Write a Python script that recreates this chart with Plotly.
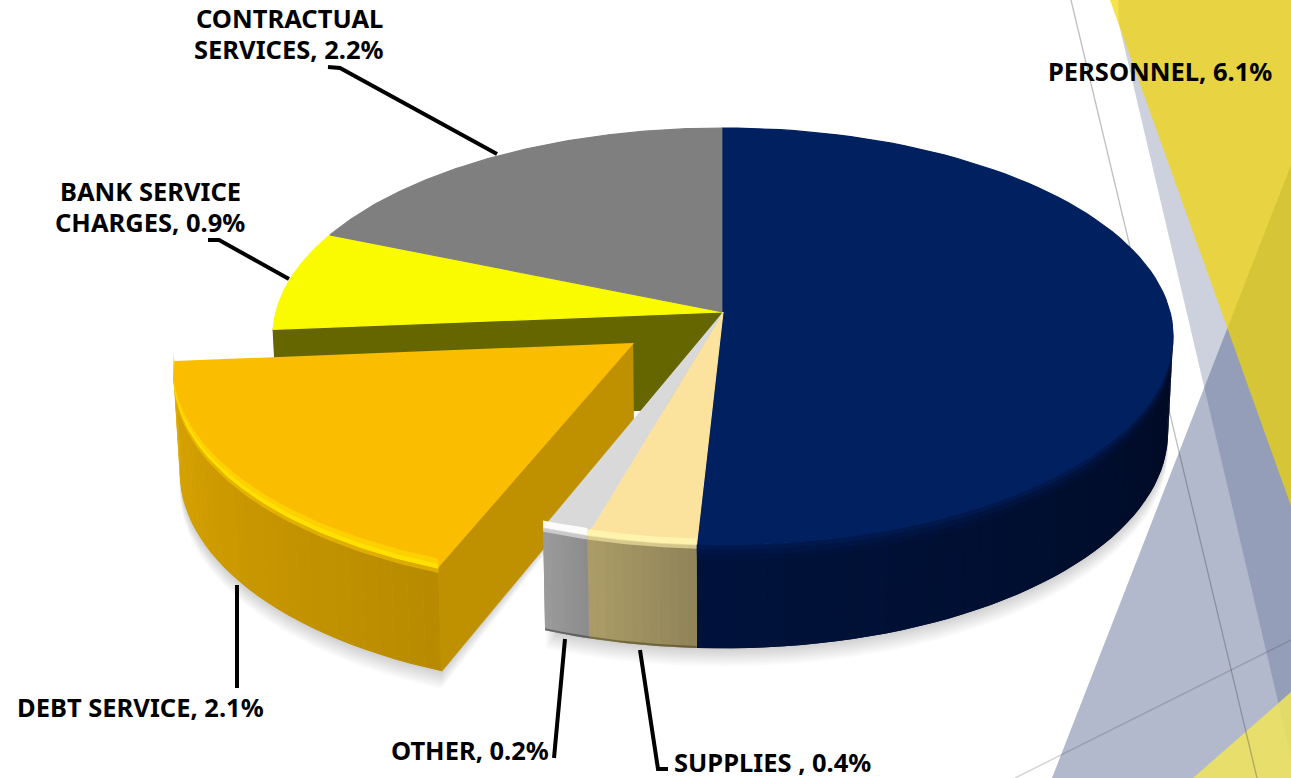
import numpy as np
import plotly.graph_objects as go

# Data
categories = ["PERSONNEL", "SUPPLIES ", "OTHER", "DEBT SERVICE", "BANK SERVICE<br>CHARGES", "CONTRACTUAL<br>SERVICES"]
# labels show one decimal, the slice sizes on the picture suggest these
values = [6.1, 0.42, 0.18, 2.14, 0.93, 2.23]
top_colors = ["#002060", "#FBE29D", "#D9D9D9", "#FBBD00", "#FBFB00", "#7F7F7F"]
side_left = ["#000A22", "#8F8358", "#8C8C8C", "#B88A00", "#666600", "#555555"]
side_right = ["#00133C", "#AD9E68", "#9C9C9C", "#DDA800", "#666600", "#555555"]

W, H = 1291, 778
CX = 723
TOP = dict(y0=312, a=205.6, b=447.0, k=0.1175)
BOT = dict(y0=407, a=213.0, b=442.0, k=0.1175)
EXPLODE = 0.247
EXPLODED = 3

total = sum(values)
edges = np.concatenate([[0], np.cumsum(values)]) / total * 360


def hex_rgb(c):
    return np.array([int(c[i:i + 2], 16) for i in (1, 3, 5)], dtype=float)


def mix(c1, c2, t):
    r = hex_rgb(c1) * (1 - t) + hex_rgb(c2) * t
    return "rgb(%d,%d,%d)" % tuple(r)


def project(x, y, p):
    d = 1 + p["k"] * y
    return CX + p["b"] * x / d, p["y0"] - p["a"] * y / d


def rim(deg, shift=(0, 0), t=0.0):
    rad = np.radians(deg)
    x = np.sin(rad) + shift[0]
    y = np.cos(rad) + shift[1]
    x0, y0 = project(x, y, TOP)
    x1, y1 = project(x, y, BOT)
    return x0 + (x1 - x0) * t, y0 + (y1 - y0) * t


def apex(shift=(0, 0), t=0.0):
    x0, y0 = project(shift[0], shift[1], TOP)
    x1, y1 = project(shift[0], shift[1], BOT)
    return x0 + (x1 - x0) * t, y0 + (y1 - y0) * t


fig = go.Figure()


def poly(xs, ys, color, seam=True):
    fig.add_trace(go.Scatter(x=list(xs), y=list(ys), mode="lines", fill="toself", fillcolor=color,
                             line=dict(width=1.2 if seam else 0, color=color),
                             hoverinfo="skip", showlegend=False))


def arc(i):
    n = max(int((edges[i + 1] - edges[i]) / 2), 12)
    return np.linspace(edges[i], edges[i + 1], n + 1)


def band(i, shift, t0, t1, color, a0=None, a1=None):
    deg = np.linspace(a0 if a0 is not None else edges[i], a1 if a1 is not None else edges[i + 1], 60)
    xa, ya = rim(deg, shift, t0)
    xb, yb = rim(deg[::-1], shift, t1)
    poly(np.concatenate([xa, xb]), np.concatenate([ya, yb]), color, seam=False)


def side(i, shift=(0, 0), start=None):
    deg = arc(i)
    if start is not None:
        deg = deg[deg >= start]
    n = len(deg) - 1
    # whole wall first so the strip joins cannot show white
    xa, ya = rim(deg, shift, 0)
    xb, yb = rim(deg[::-1], shift, 1)
    poly(np.concatenate([xa, xb]), np.concatenate([ya, yb]), mix(side_left[i], side_right[i], 0.5), seam=False)
    for j in range(n):
        d = deg[j:j + 2]
        xa, ya = rim(d, shift, 0)
        xb, yb = rim(d[::-1], shift, 1)
        # colour runs with screen position, lighter to the left of each slice
        c = mix(side_left[i], side_right[i], (j + 0.5) / n)
        poly(np.concatenate([xa, xb]), np.concatenate([ya, yb]), c, seam=False)


def top_face(i, shift=(0, 0)):
    deg = np.linspace(edges[i], edges[i + 1], 90)
    xa, ya = rim(deg, shift, 0)
    ax, ay = apex(shift)
    poly(np.concatenate([[ax], xa]), np.concatenate([[ay], ya]), top_colors[i])


mid = np.radians((edges[EXPLODED] + edges[EXPLODED + 1]) / 2)
shift = (EXPLODE * np.sin(mid), EXPLODE * np.cos(mid))

# Soft shadow under the pie
for off in range(2, 20, 2):
    deg = np.linspace(edges[0], edges[3], 120)
    xa, ya = rim(deg, (0, 0), 1)
    ax, ay = apex((0, 0), 1)
    poly(np.concatenate([[ax], xa]), np.concatenate([[ay], ya + off]), "rgba(0,0,0,0.018)", seam=False)
    deg = np.linspace(edges[3], edges[4], 60)
    xa, ya = rim(deg, shift, 1)
    ax, ay = apex(shift, 1)
    poly(np.concatenate([[ax], xa]), np.concatenate([[ay], ya + off]), "rgba(0,0,0,0.018)", seam=False)

# Inner wall left open by the exploded slice
xa, ya = rim(np.array([edges[4]]), (0, 0), 0)
xb, yb = rim(np.array([edges[4]]), (0, 0), 1)
a0 = apex((0, 0), 0)
a1 = apex((0, 0), 1)
poly([a0[0], xa[0], xb[0], a1[0]], [a0[1], ya[0], yb[0], a1[1]], "#666600")

# Exploded slice: outer wall and the cut face
side(EXPLODED, shift)
xa, ya = rim(np.array([edges[3]]), shift, 0)
xb, yb = rim(np.array([edges[3]]), shift, 1)
a0 = apex(shift, 0)
a1 = apex(shift, 1)
poly([a0[0], xa[0], xb[0], a1[0]], [a0[1], ya[0], yb[0], a1[1]], "#BF9000")

# Main body
side(0, start=90)
side(1)
side(2)
top_face(4)
top_face(5)
top_face(0)
top_face(1)
top_face(2)
band(0, (0, 0), 0.0, 0.05, "rgba(0,28,84,0.75)", a0=100)
band(0, (0, 0), 0.05, 0.1, "rgba(0,28,84,0.4)", a0=100)
band(0, (0, 0), 0.1, 0.15, "rgba(0,28,84,0.15)", a0=100)
band(1, (0, 0), -0.06, 0.0, "rgba(255,245,175,0.9)")
band(1, (0, 0), 0.0, 0.04, "rgba(240,225,160,0.7)")
band(2, (0, 0), -0.07, 0.0, "rgba(255,255,255,0.9)")
band(2, (0, 0), 0.0, 0.04, "rgba(225,225,225,0.7)")
band(1, (0, 0), 0.98, 1.0, "rgba(70,60,30,0.5)")
band(2, (0, 0), 0.98, 1.0, "rgba(50,50,50,0.5)")

# Top of the exploded slice goes last, its bright bevel on top of it
top_face(EXPLODED, shift)
band(EXPLODED, shift, -0.08, -0.03, "rgba(255,216,0,0.7)")
band(EXPLODED, shift, -0.03, 0.02, "rgba(255,224,0,1)")
band(EXPLODED, shift, 0.02, 0.06, "rgba(255,205,0,0.5)")

# Leader lines
leaders = [
    ([328, 340, 497], [67, 68, 154]),
    ([208, 219, 289], [240, 240, 279]),
    ([237, 237], [585, 688]),
    ([565, 554], [639, 758]),
    ([640, 658, 668], [650, 769, 769]),
]
for lx, ly in leaders:
    fig.add_trace(go.Scatter(x=lx, y=ly, mode="lines", line=dict(color="black", width=4),
                             hoverinfo="skip", showlegend=False))

# Labels, one annotation per line since the reference sets them tighter than plotly's line height
label_pos = [(1160, 71), (772, 762), (470, 750), (140, 707), (150, 191), (289, 18)]
LINE_GAP = 31
for cat, val, (lx, ly) in zip(categories, values, label_pos):
    lines = ("%s, %.1f%%" % (cat, val)).split("<br>")
    for n, line in enumerate(lines):
        fig.add_annotation(x=lx, y=ly + n * LINE_GAP, text="<b>%s</b>" % line, showarrow=False,
                           font=dict(family="Noto Sans", size=25.5, color="black"),
                           xanchor="center", yanchor="middle")

# Backdrop facets from the slide theme
BLUE = "68,84,130"
shapes = [
    dict(type="path", path="M1119,24 L1291,757 L1291,0 L1118,0 Z", fillcolor="rgba(%s,0.27)" % BLUE),
    dict(type="path", path="M1052,778 L1291,165 L1291,778 Z", fillcolor="rgba(%s,0.41)" % BLUE),
    dict(type="path", path="M1110,0 L1291,506 L1291,0 Z", fillcolor="rgba(244,214,1,0.7)"),
    dict(type="path", path="M1193,778 L1291,692 L1291,778 Z", fillcolor="rgba(240,228,90,0.85)"),
    dict(type="line", x0=1071, y0=0, x1=1257, y1=778, line=dict(color="rgba(70,70,70,0.35)", width=1.3)),
    dict(type="line", x0=1015, y0=778, x1=1291, y1=640, line=dict(color="rgba(70,70,70,0.25)", width=1.3)),
]
for s in shapes:
    s["layer"] = "below"
    s["xref"] = "x"
    s["yref"] = "y"
    if s["type"] == "path":
        s["line"] = dict(width=0)

fig.update_layout(
    width=W, height=H, margin=dict(l=0, r=0, t=0, b=0),
    paper_bgcolor="white", plot_bgcolor="white", showlegend=False, shapes=shapes,
    xaxis=dict(range=[0, W], visible=False, fixedrange=True),
    yaxis=dict(range=[H, 0], visible=False, fixedrange=True),
)

# the page's default body margin would push the figure off by 8px
fig.write_html("out.html", config=dict(displayModeBar=False),
               post_script="document.body.style.margin='0';document.body.style.overflow='hidden';")
